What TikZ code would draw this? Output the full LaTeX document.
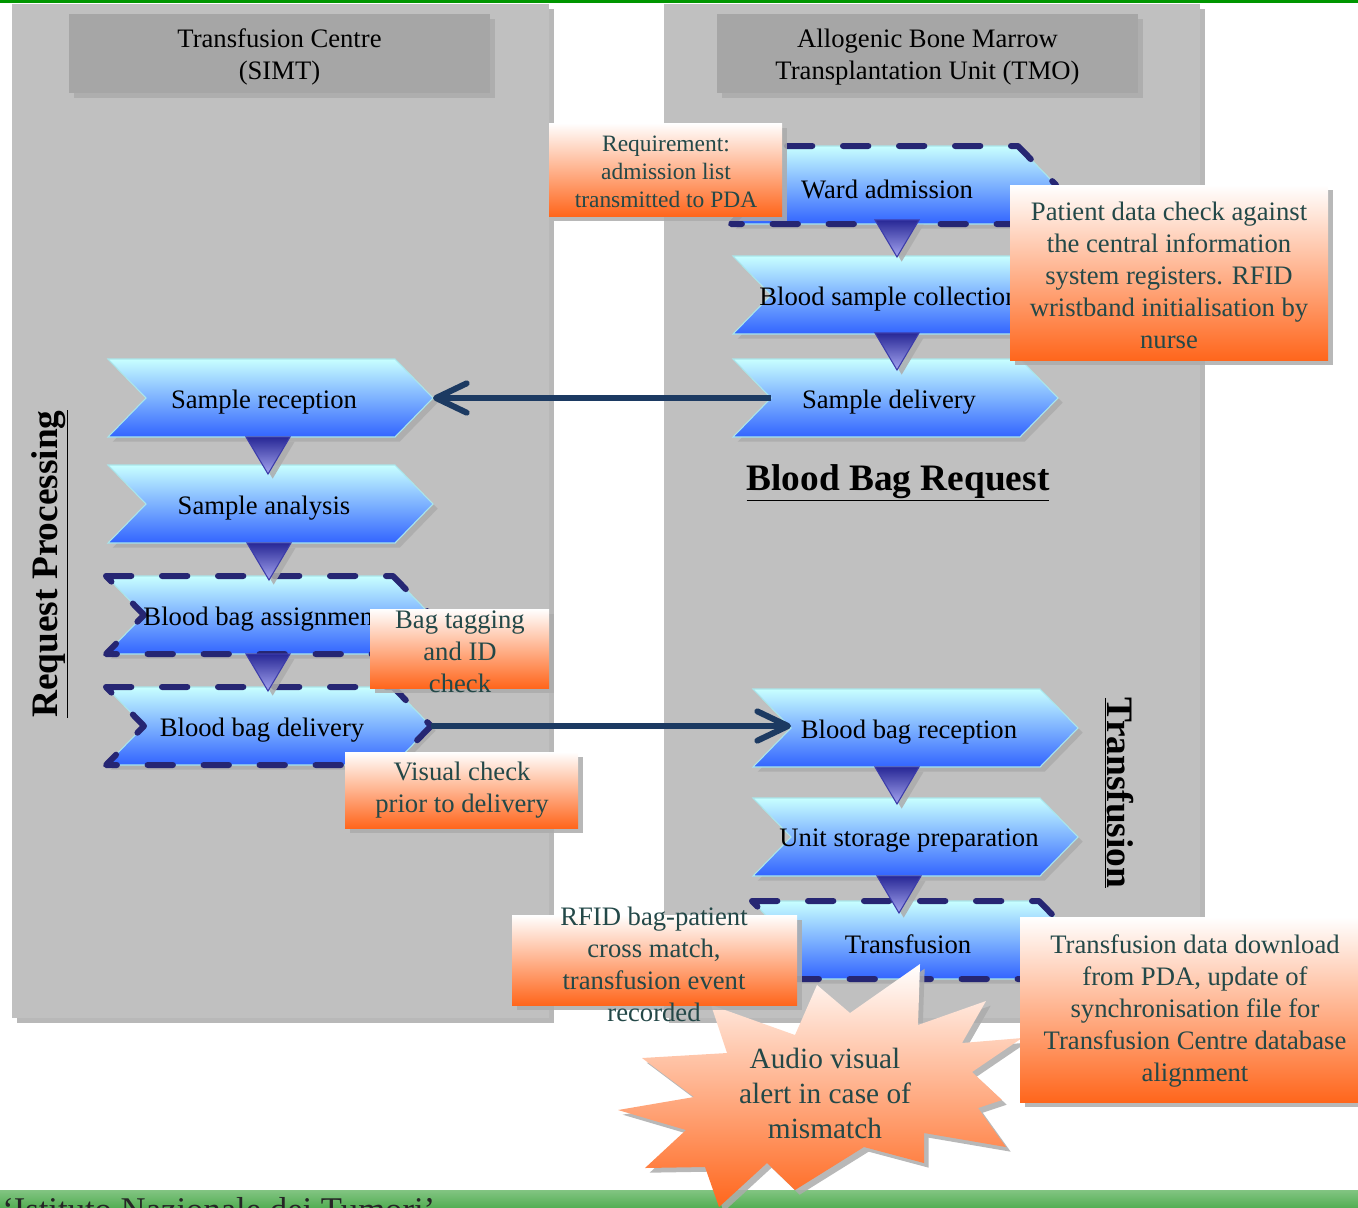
\documentclass[tikz,border=0pt]{standalone}
\usepackage{fontspec}
\setmainfont{Liberation Serif}
\usetikzlibrary{arrows.meta,shadows,calc}
\definecolor{panelc}{RGB}{192,192,192}
\definecolor{hdrc}{RGB}{166,166,166}
\definecolor{chevtop}{RGB}{200,255,255}
\definecolor{chevmid}{RGB}{140,195,255}
\definecolor{chevbot}{RGB}{50,100,255}
\definecolor{chevedge}{RGB}{170,230,235}
\definecolor{navyc}{RGB}{38,38,115}
\definecolor{arrowc}{RGB}{28,58,98}
\definecolor{tritop}{RGB}{40,40,150}
\definecolor{tribot}{RGB}{165,165,240}
\definecolor{triedge}{RGB}{60,60,170}
\definecolor{notemid}{RGB}{255,212,200}
\definecolor{noteorange}{RGB}{255,102,28}
\definecolor{notetextc}{RGB}{35,72,72}
\definecolor{topgreen}{RGB}{0,150,0}
\definecolor{bgreenA}{RGB}{130,196,130}
\definecolor{bgreenB}{RGB}{85,175,85}
\tikzset{
  shd/.style={drop shadow={shadow xshift=3.5pt,shadow yshift=-3.5pt,fill=gray!65,opacity=0.85}},
  panelsty/.style={fill=panelc,shd},
  hdrsty/.style={fill=hdrc,shd},
  hdrtext/.style={align=center,font=\fontsize{20}{24}\selectfont,text=black,inner sep=0pt},
  chevfill/.style={top color=chevtop,middle color=chevmid,bottom color=chevbot,draw=chevedge,line width=0.8pt,shd},
  chevdash/.style={draw=navyc,line width=4.5pt,dash pattern=on 19pt off 23pt,line cap=round,line join=round},
  chevtext/.style={font=\fontsize{20}{24}\selectfont,text=black,inner sep=0pt},
  tristy/.style={top color=tritop,bottom color=tribot,draw=triedge,line width=0.8pt,shd},
  conn/.style={draw=arrowc,line width=4.5pt,-{Straight Barb[length=23pt,width=22pt,round]}},
  notesty/.style={top color=white,middle color=notemid,bottom color=noteorange,shd},
  notetext/.style={align=center,font=\fontsize{20}{24}\selectfont,text=notetextc,inner sep=0pt},
  titletext/.style={font=\fontsize{28}{32}\selectfont\bfseries,text=black,inner sep=0pt},
  starsty/.style={top color=white,middle color=notemid,bottom color=noteorange,shd},
}
% chevron: name, left x, top y, outline style, text
\newcommand{\chev}[5]{%
  \path[chevfill] (#2,#3) -- ++(287,0) -- ++(38,39) coordinate (#1-tip) -- ++(-38,39) -- ++(-287,0) -- ++(38,-39) coordinate (#1-notch) -- cycle;
  \path[#4] (#2,#3) -- ++(287,0) -- ++(38,39) -- ++(-38,39) -- ++(-287,0) -- ++(38,-39) -- cycle;
  \node[chevtext] (#1) at (#2+156,#3+43) {#5};
}
% down triangle: apex x, base y
\newcommand{\dtri}[2]{\path[tristy] (#1-22,#2) -- (#1+22,#2) -- (#1,#2+37) -- cycle;}
\begin{document}
\begin{tikzpicture}[x=0.75pt,y=-0.75pt]
\useasboundingbox (0,0) rectangle (1358,1207);
\begin{scope}
\clip (0,0) rectangle (1358,1207);
% top line and bottom band
\fill[topgreen] (0,0) rectangle (1358,3);
\path[top color=bgreenA,bottom color=bgreenB] (0,1190) rectangle (1358,1207);
\node[anchor=base west,font=\fontsize{26}{30}\selectfont,text=black!85,inner sep=0pt] (inst) at (2,1221) {‘Istituto Nazionale dei Tumori’};
% panels
\path[panelsty] (12,4) rectangle (549,1018);
\path[panelsty] (664,4) rectangle (1200,1018);
% headers
\path[hdrsty] (69,14) rectangle (490,93);
\node[hdrtext] (simt) at (279.5,57) {Transfusion Centre\\(SIMT)};
\path[hdrsty] (717,14) rectangle (1138,93);
\node[hdrtext] (tmo) at (927.5,57) {Allogenic Bone Marrow\\Transplantation Unit (TMO)};
% titles
\node[titletext] (bbreq) at (898,483) {\underline{Blood Bag Request}};
\node[titletext,rotate=90] (reqproc) at (50,564) {\underline{Request Processing}};
\node[titletext,rotate=-90] (transf) at (1119,793) {\underline{Transfusion}};
% chevrons right top
\chev{wa}{731}{146}{chevdash}{Ward admission}
\chev{bsc}{733}{256}{}{Blood sample collection}
\chev{sd}{733}{359}{}{Sample delivery}
% left column
\chev{sr}{108}{359}{}{Sample reception}
\chev{sa}{108}{465}{}{Sample analysis}
\chev{bba}{106}{576}{chevdash}{Blood bag assignment}
\chev{bbd}{106}{687}{chevdash}{Blood bag delivery}
% right bottom
\chev{bbr}{753}{689}{}{Blood bag reception}
\chev{usp}{753}{798}{}{Unit storage preparation}
\chev{tr}{752}{901}{chevdash}{Transfusion}
% triangles
\dtri{268}{437}
\dtri{269}{543}
\dtri{268}{654}
\dtri{897}{220}
\dtri{897}{333}
\dtri{897}{767}
\dtri{899}{876}
% connectors
\draw[conn] (sd-notch) -- (sr-tip);
\draw[conn] (bbd-tip) -- (bbd-tip -| bbr-notch);
% star
\path[starsty] (920,964) -- (918,1025) -- (986,1001) -- (962,1043) -- (1022,1038) -- (972,1072) -- (1002,1100) -- (978,1108) -- (1006,1147) -- (924,1133) -- (924,1163) -- (864,1147) -- (795,1190) -- (767,1163) -- (719,1207) -- (705,1167) -- (645,1168) -- (686,1130) -- (618,1110) -- (694,1097) -- (642,1058) -- (727,1053) -- (711,1005) -- (795,1035) -- (817,985) -- (850,1013) -- cycle;
\node[notetext,font=\fontsize{22}{26.25}\selectfont] (alert) at (825,1093) {Audio visual\\alert in case of\\mismatch};
% notes
\path[notesty] (549,123) rectangle (782,216);
\node[notetext,font=\fontsize{17.6}{21}\selectfont] (req) at (666,172) {Requirement:\\admission list\\transmitted to PDA};
\path[notesty] (1010,185) rectangle (1328,360);
\node[notetext] (pdc) at (1169,275) {Patient data check against\\the central information\\system registers. RFID\\wristband initialisation by\\nurse};
\path[notesty] (370,609) rectangle (549,688);
\node[notetext] (bagtag) at (460,652) {Bag tagging\\and ID\\check};
\path[notesty] (345,752) rectangle (578,828);
\node[notetext] (vis) at (462,790) {Visual check\\prior to delivery};
\path[notesty] (512,915) rectangle (797,1005);
\node[notetext] (rfid) at (654,964) {RFID bag-patient\\cross match,\\transfusion event\\recorded};
\path[notesty] (1020,917) rectangle (1358,1102);
\node[notetext] (tdd) at (1195,1011) {Transfusion data download\\from PDA, update of\\synchronisation file for\\Transfusion Centre database\\alignment};
\end{scope}
\end{tikzpicture}
\end{document}
